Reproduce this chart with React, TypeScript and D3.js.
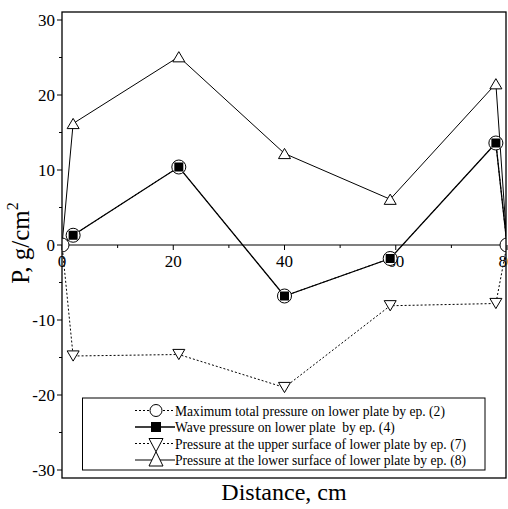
import React from "react";
import * as d3 from "d3";

// Measurement positions along the plate (cm)
const distance = [0, 2, 21, 40, 59, 78, 80];
// Maximum total pressure on lower plate, ep. (2)
const maxTotal = [0, 1.3, 10.4, -6.8, -1.8, 13.6, 0];
// Wave pressure on lower plate, ep. (4)
const wavePressure = [0, 1.3, 10.4, -6.8, -1.8, 13.6, 0];
// Pressure at the upper surface of lower plate, ep. (7)
const upperSurface = [0, -14.8, -14.6, -19.0, -8.1, -7.8, 0];
// Pressure at the lower surface of lower plate, ep. (8)
const lowerSurface = [0, 16.2, 25.1, 12.2, 6.1, 21.5, 0];

const xMajorTicks = [0, 20, 40, 60, 80];
const xMinorTicks = [10, 30, 50, 70];
const yMajorTicks = [-30, -20, -10, 0, 10, 20, 30];
const yMinorTicks = [-25, -15, -5, 5, 15, 25];

const legendLabels = [
  "Maximum total pressure on lower plate by ep. (2)",
  "Wave pressure on lower plate  by ep. (4)",
  "Pressure at the upper surface of lower plate by ep. (7)",
  "Pressure at the lower surface of lower plate by ep. (8)",
];

const W = 508;
const H = 509;
const frame = { left: 62, right: 506, top: 12, bottom: 478 };
const FONT = '"Liberation Serif", "DejaVu Serif", "Times New Roman", serif';

type Pt = [number, number];

function TriUp({ cx, cy, s }: { cx: number; cy: number; s: number }) {
  const h = s * 0.85;
  return (
    <path
      d={`M${cx},${cy - h / 2}L${cx + s / 2},${cy + h / 2}L${cx - s / 2},${cy + h / 2}Z`}
      fill="white"
      stroke="black"
      strokeWidth={1}
    />
  );
}

function TriDown({ cx, cy, s }: { cx: number; cy: number; s: number }) {
  const h = s * 0.85;
  return (
    <path
      d={`M${cx - s / 2},${cy - h / 2}L${cx + s / 2},${cy - h / 2}L${cx},${cy + h / 2}Z`}
      fill="white"
      stroke="black"
      strokeWidth={1}
    />
  );
}

export default function App() {
  const x = d3.scaleLinear().domain([0, 80]).range([62, 507]);
  const y = d3.scaleLinear().domain([-30, 30]).range([470, 20]);

  const pts = (vals: number[]): Pt[] => distance.map((d, i) => [d, vals[i]]);
  const line = d3
    .line<Pt>()
    .x((d) => x(d[0]))
    .y((d) => y(d[1]));

  const interior = (vals: number[]) => pts(vals).slice(1, -1);

  const legendY = [410.5, 427, 443.5, 460];
  const symX = 156;
  const txt = { fontFamily: FONT };

  return (
    <svg
      width={W}
      height={H}
      style={{ position: "absolute", left: 0, top: 0, background: "white", fontFamily: FONT }}
    >
      <defs>
        <clipPath id="plotArea">
          <rect
            x={frame.left}
            y={frame.top}
            width={frame.right - frame.left}
            height={frame.bottom - frame.top}
          />
        </clipPath>
      </defs>
      <rect x={0} y={0} width={W} height={H} fill="white" />

      {/* zero line acting as the distance axis */}
      <line x1={frame.left} x2={frame.right} y1={y(0)} y2={y(0)} stroke="black" strokeWidth={1.2} />
      {xMajorTicks.map((t) => (
        <g key={`xm${t}`}>
          <line x1={x(t)} x2={x(t)} y1={y(0)} y2={y(0) + 5} stroke="black" strokeWidth={1} />
          <text x={x(t)} y={y(0) + 22} fontSize={17} textAnchor="middle" style={txt}>
            {t}
          </text>
        </g>
      ))}
      {xMinorTicks.map((t) => (
        <line key={`xn${t}`} x1={x(t)} x2={x(t)} y1={y(0)} y2={y(0) + 3} stroke="black" strokeWidth={1} />
      ))}

      {/* pressure axis */}
      {yMajorTicks.map((t) => (
        <g key={`ym${t}`}>
          <line x1={frame.left - 5} x2={frame.left} y1={y(t)} y2={y(t)} stroke="black" strokeWidth={1} />
          <text x={frame.left - 7} y={y(t) + 6} fontSize={17} textAnchor="end" style={txt}>
            {t}
          </text>
        </g>
      ))}
      {yMinorTicks.map((t) => (
        <line key={`yn${t}`} x1={frame.left - 3} x2={frame.left} y1={y(t)} y2={y(t)} stroke="black" strokeWidth={1} />
      ))}

      {/* series */}
      <g clipPath="url(#plotArea)">
        <path d={line(pts(upperSurface)) ?? ""} fill="none" stroke="black" strokeWidth={1} strokeDasharray="2,2" />
        <path d={line(pts(lowerSurface)) ?? ""} fill="none" stroke="black" strokeWidth={1} />
        <path d={line(pts(maxTotal)) ?? ""} fill="none" stroke="black" strokeWidth={1} strokeDasharray="2,2" />
        <path d={line(pts(wavePressure)) ?? ""} fill="none" stroke="black" strokeWidth={1.3} />

        {interior(upperSurface).map((p, i) => (
          <TriDown key={`ud${i}`} cx={x(p[0])} cy={y(p[1])} s={12} />
        ))}
        {interior(lowerSurface).map((p, i) => (
          <TriUp key={`lu${i}`} cx={x(p[0])} cy={y(p[1])} s={12} />
        ))}
        {pts(maxTotal).map((p, i) => (
          <circle key={`c${i}`} cx={x(p[0])} cy={y(p[1])} r={7} fill="white" stroke="black" strokeWidth={1} />
        ))}
        {interior(wavePressure).map((p, i) => (
          <rect key={`s${i}`} x={x(p[0]) - 4.5} y={y(p[1]) - 4.5} width={9} height={9} fill="black" />
        ))}
      </g>

      {/* frame */}
      <rect
        x={frame.left}
        y={frame.top}
        width={frame.right - frame.left}
        height={frame.bottom - frame.top}
        fill="none"
        stroke="black"
        strokeWidth={1.3}
      />

      {/* legend */}
      <rect x={82.5} y={398} width={402.5} height={72} fill="white" stroke="black" strokeWidth={1} />
      <line x1={135} x2={175} y1={legendY[0]} y2={legendY[0]} stroke="black" strokeDasharray="2,2" />
      <circle cx={symX} cy={legendY[0]} r={6} fill="white" stroke="black" />
      <line x1={135} x2={175} y1={legendY[1]} y2={legendY[1]} stroke="black" strokeWidth={1.3} />
      <rect x={symX - 5} y={legendY[1] - 5} width={10} height={10} fill="black" />
      <line x1={135} x2={175} y1={legendY[2]} y2={legendY[2]} stroke="black" strokeDasharray="2,2" />
      <line x1={135} x2={175} y1={legendY[3]} y2={legendY[3]} stroke="black" />
      <path
        d={`M${symX - 7},${legendY[2] - 5}L${symX + 7},${legendY[2] - 5}L${symX},${(legendY[2] + legendY[3]) / 2}Z`}
        fill="white"
        stroke="black"
      />
      <path
        d={`M${symX - 7},${legendY[3] + 6}L${symX + 7},${legendY[3] + 6}L${symX},${(legendY[2] + legendY[3]) / 2}Z`}
        fill="white"
        stroke="black"
      />
      {legendLabels.map((l, i) => (
        <text key={l} x={175} y={legendY[i] + 5} fontSize={13.6} style={{ ...txt, whiteSpace: "pre" }}>
          {l}
        </text>
      ))}

      {/* axis titles */}
      <text x={(frame.left + frame.right) / 2} y={500} fontSize={24} textAnchor="middle" style={txt}>
        Distance, cm
      </text>
      <text transform="translate(29,243) rotate(-90)" fontSize={25} textAnchor="middle" style={txt}>
        P, g/cm<tspan dy={-11} fontSize={16}>2</tspan>
      </text>
    </svg>
  );
}
